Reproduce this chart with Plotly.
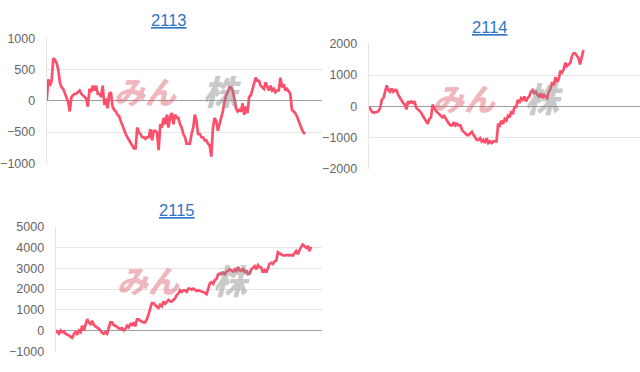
import plotly.graph_objects as go

# ---- data ----
titles = ["2113", "2114", "2115"]

s2113 = [10, 345, 242, 320, 680, 655, 603, 500, 294, 216, 191, 113, 62, -15, -170, 62, 88, 113, 113, 139,
         165, 113, 88, 62, 36, -93, 191, 139, 242, 165, 242, 113, 113, 62, 242, -67, 36, -119, 113, 139,
         -93, -144, -170, -222, -247, -325, -402, -454, -531, -583, -634, -660, -711, -763, -763, -428, -505, -531, -583, -583,
         -608, -583, -583, -454, -634, -479, -479, -505, -789, -376, -428, -273, -376, -222, -428, -247, -196, -376, -222, -273,
         -273, -376, -428, -531, -583, -686, -686, -686, -531, -428, -222, -325, -531, -531, -583, -583, -634, -634, -686, -711,
         -892, -428, -273, -325, -479, -376, -273, -170, -15, 88, 139, 216, 216, 165, 36, -119, -170, -144, -170, -41,
         -222, -93, -196, 62, 88, 191, 294, 371, 320, 320, 242, 216, 191, 294, 216, 165, 242, 165, 191, 139,
         165, 165, 371, 216, 268, 165, 191, 139, 113, -144, -170, -196, -247, -325, -402, -454, -505, -531]

s2114 = [0, -103, -186, -206, -206, -186, -155, -52, 206, 258, 464, 670, 516, 464, 567, 464, 516, 516, 361, 258,
         206, 103, 52, -103, 155, 103, 155, 103, 155, -52, -103, -155, -206, -309, -412, -464, -567, -412, -361, 52,
         -52, -155, -206, -258, -309, -361, -309, -412, -516, -567, -619, -619, -516, -619, -567, -619, -619, -773, -825, -876,
         -928, -928, -876, -825, -928, -1031, -1083, -1083, -1031, -1134, -1083, -1186, -1031, -1186, -1134, -1186, -1134, -1134, -1134, -567,
         -619, -464, -567, -412, -464, -309, -361, -155, -258, 0, -52, 206, 103, 258, 206, 309, 155, 258, 309, 464,
         516, 412, 464, 361, 309, 412, 258, 361, 309, 258, 464, 567, 773, 670, 928, 773, 876, 1134, 1083, 1186,
         1392, 1289, 1340, 1392, 1598, 1701, 1701, 1598, 1547, 1340, 1598, 1804]

s2115 = [0, -78, -156, 0, -78, -47, -156, -202, -233, -311, -358, -156, -78, -202, 0, -78, 233, 0, 233, 544,
         389, 311, 467, 264, 202, 156, 78, 0, -109, -156, -78, -156, 78, 389, 389, 264, 233, 156, 109, 78,
         109, 0, 78, 233, 156, 311, 264, 389, 202, 544, 544, 467, 420, 389, 389, 544, 778, 1011, 1322, 1322,
         1197, 1135, 1089, 1244, 1166, 1400, 1291, 1400, 1477, 1400, 1400, 1477, 1555, 1711, 1788, 1944, 1866, 1944, 1944, 1866,
         2022, 2022, 1975, 2022, 1944, 1913, 1944, 1913, 1913, 1866, 1819, 1757, 2099, 2286, 2333, 2255, 2441, 2488, 2721, 2752,
         2721, 2799, 2721, 2846, 2877, 2955, 2908, 2846, 2955, 2877, 3063, 2908, 2877, 3001, 2799, 2908, 2721, 2752, 2955, 3032,
         3110, 2955, 3157, 3063, 3032, 2799, 2908, 2799, 3063, 3219, 3266, 3219, 3343, 3374, 3779, 3732, 3654, 3623, 3623, 3654,
         3654, 3623, 3654, 3623, 3732, 3841, 3685, 3888, 4043, 4152, 4090, 3996, 4043, 3841, 4043]

series = [s2113, s2114, s2115]
y_ranges = [(-1000, 1000), (-2000, 2000), (-1000, 5000)]
y_dticks = [500, 1000, 1000]

# ---- layout geometry (pixels in a 640x372 window) ----
W, H = 640, 372
# plot area: left, right, y of top tick, y of bottom tick
areas = [(43, 320, 33.5, 163.0), (367, 640, 39.3, 168.3), (52, 320, 229.0, 357.7)]
line_end_px = [303, 583, 309]
title_pos = [(166, 15), (489, 22), (174, 211)]
mark_pos = [(142, 220, 88), (463, 544, 95), (145, 230, 283)]

LINE = "#fb4f6b"
GRID = "#e5e5e5"
TICK = "#666666"

fig = go.Figure()
layout = dict(width=W, height=H, margin=dict(l=0, r=0, t=0, b=0),
              paper_bgcolor="white", plot_bgcolor="white", showlegend=False,
              font=dict(family="Liberation Sans, Arial, sans-serif"))
annotations = []

for i, (vals, (lo, hi), dt) in enumerate(zip(series, y_ranges, y_dticks)):
    n = i + 1
    xa = "x" if n == 1 else f"x{n}"
    ya = "y" if n == 1 else f"y{n}"
    xs = list(range(len(vals)))
    fig.add_trace(go.Scatter(x=xs, y=vals, mode="lines", xaxis=xa, yaxis=ya,
                             line=dict(color=LINE, width=2.7), hoverinfo="skip"))
    left, right, ytop, ybot = areas[i]
    span_px = line_end_px[i] - left
    xmax = (len(vals) - 1) * (right - left) / span_px
    pad = (hi - lo) * 0.004
    layout[f"xaxis{'' if n == 1 else n}"] = dict(
        domain=[left / W, right / W], range=[0, xmax], anchor=ya,
        showgrid=False, zeroline=False, showticklabels=False, showline=False, fixedrange=True)
    layout[f"yaxis{'' if n == 1 else n}"] = dict(
        domain=[1 - (ybot + pad * (ybot - ytop) / (hi - lo)) / H,
                1 - (ytop - pad * (ybot - ytop) / (hi - lo)) / H],
        range=[lo - pad, hi + pad], anchor=xa, dtick=dt, tick0=0,
        showgrid=True, gridcolor=GRID, gridwidth=1,
        zeroline=True, zerolinecolor="#a0a0a0", zerolinewidth=1,
        showline=True, linecolor=GRID, linewidth=1,
        ticks="", ticklabelstandoff=8,
        tickfont=dict(size=12.5, color=TICK, family="Liberation Sans, Arial, sans-serif"),
        fixedrange=True)
    tx, ty = title_pos[i]
    annotations.append(dict(text=f"<u>{titles[i]}</u>", x=tx / W, y=1 - ty / H,
                            xref="paper", yref="paper", showarrow=False,
                            xanchor="center", yanchor="middle",
                            font=dict(size=16.5, color="#2f74c8",
                                      family="Liberation Sans, Arial, sans-serif")))
    px1, px2, py = mark_pos[i]
    annotations.append(dict(text="<i>みん</i>", x=px1 / W, y=1 - py / H,
                            xref="paper", yref="paper", showarrow=False,
                            xanchor="center", yanchor="middle", opacity=0.45,
                            font=dict(size=31, color="#e0606e", weight=900,
                                      family="Noto Sans CJK JP")))
    annotations.append(dict(text="<i>株</i>", x=px2 / W, y=1 - py / H,
                            xref="paper", yref="paper", showarrow=False,
                            xanchor="center", yanchor="middle", opacity=0.45,
                            font=dict(size=34, color="#8a8a8a", weight=900,
                                      family="Noto Sans CJK JP")))

layout["annotations"] = annotations
fig.update_layout(**layout)
fig.write_html("out.html")
